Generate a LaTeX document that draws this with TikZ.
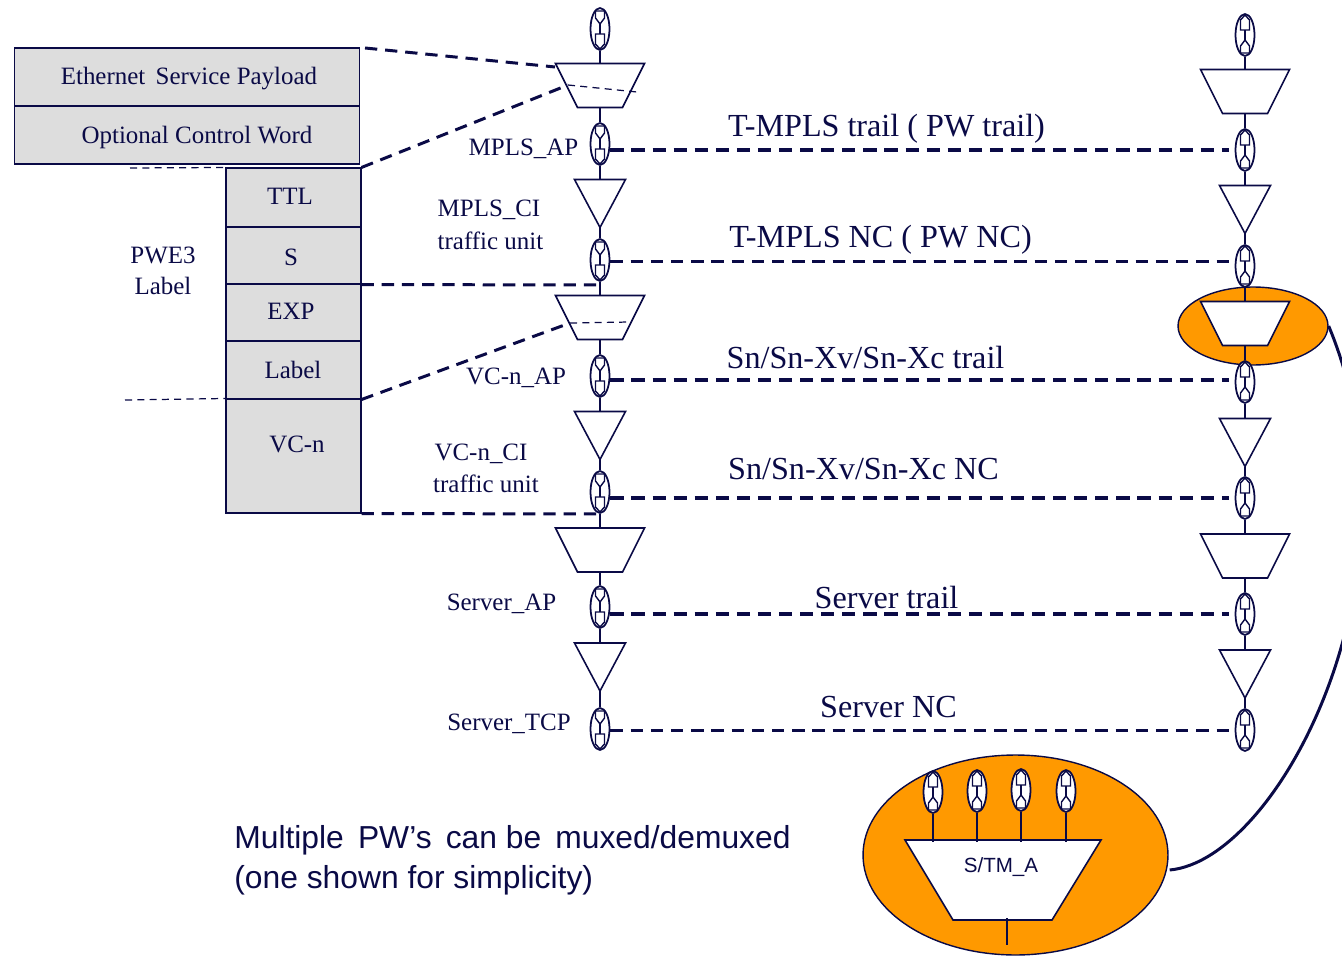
\documentclass[tikz,border=0pt]{standalone}
\usepackage{fontspec}
\setmainfont{Liberation Serif}
\setsansfont{Liberation Sans}
\usetikzlibrary{shapes.geometric}
\definecolor{navyline}{HTML}{0A0A46}
\definecolor{fieldgray}{HTML}{DDDDDD}
\definecolor{blobfill}{HTML}{FF9900}
\tikzset{
    wire/.style={draw=navyline, line width=0.8pt},
    fieldbox/.style={shape=rectangle, draw=navyline, fill=fieldgray, line width=0.6pt, inner sep=0pt, text=navyline},
    midtext/.style={text=navyline, inner sep=0pt, font=\fontsize{14.2}{16}\selectfont},
    bigtext/.style={text=navyline, inner sep=0pt, font=\fontsize{18.3}{20}\selectfont},
    sanstext/.style={text=navyline, inner sep=0pt, align=left, font=\sffamily\fontsize{18.1}{22.8}\selectfont},
    heavydash/.style={draw=navyline, line width=1.9pt, dash pattern=on 7.5pt off 4.5pt, shorten >=3pt},
    meddash/.style={draw=navyline, line width=1.7pt, dash pattern=on 7pt off 4.5pt},
    layerdash/.style={draw=navyline, line width=1.4pt, dash pattern=on 7pt off 4.5pt, shorten >=3pt},
    thindash/.style={draw=navyline, line width=0.7pt, dash pattern=on 4pt off 3pt},
    outline/.style={draw=navyline, fill=white, line width=0.9pt},
    blob/.style={shape=ellipse, draw=navyline, fill=blobfill, line width=0.8pt, inner sep=0pt},
    cpoval/.style={shape=ellipse, draw=navyline, fill=white, line width=1pt, inner sep=0pt, minimum width=0.38cm, minimum height=0.84cm},
    cp/.pic={
        \node[cpoval] (-o) at (0,0) {};
        \draw[wire] (-4.5,-18) -- (4.5,-18) -- (4.5,-11) -- (0,-5) -- (-4.5,-11) -- cycle;
        \draw[wire] (0,-5) -- (0,5);
        \draw[wire] (-4.5,5) -- (4.5,5) -- (4.5,15) -- (0,20) -- (-4.5,15) -- cycle;
    },
    adapt/.pic={
        \draw[outline] (-44.5,-22) -- (44.5,-22) -- (22.5,22) -- (-22.5,22) -- cycle;
        \coordinate (-n) at (0,-22);
        \coordinate (-s) at (0,22);
    },
    term/.pic={
        \draw[outline] (-25.5,-24) -- (25.5,-24) -- (0,24) -- cycle;
        \coordinate (-n) at (0,-24);
        \coordinate (-s) at (0,24);
    }
}
\begin{document}
\begin{tikzpicture}[x=0.02cm, y=-0.02cm]
    % Paths, nodes and wires:
    \useasboundingbox (0,0) rectangle (1342,956);
    \node[blob, minimum width=3cm, minimum height=1.56cm](B1) at (1253, 326){};
    \node[blob, minimum width=6.1cm, minimum height=4cm](B2) at (1015.5, 855){};
    % frame fields
    \node[fieldbox, minimum width=6.92cm, minimum height=1.16cm](F1) at (187, 77){};
    \node[midtext] at (189, 79){Ethernet\, Service Payload};
    \node[fieldbox, minimum width=6.92cm, minimum height=1.16cm](F2) at (187, 135){};
    \node[midtext] at (197, 138){Optional Control Word};
    \node[fieldbox, minimum width=2.7cm, minimum height=1.18cm](F3) at (293.5, 197.5){};
    \node[midtext] at (290, 196){TTL};
    \node[fieldbox, minimum width=2.7cm, minimum height=1.14cm](F4) at (293.5, 255.5){};
    \node[midtext] at (291, 257){S};
    \node[fieldbox, minimum width=2.7cm, minimum height=1.14cm](F5) at (293.5, 312.5){};
    \node[midtext] at (291, 311){EXP};
    \node[fieldbox, minimum width=2.7cm, minimum height=1.16cm](F6) at (293.5, 370){};
    \node[midtext] at (293, 370){Label};
    \node[fieldbox, minimum width=2.7cm, minimum height=2.28cm](F7) at (293.5, 456){};
    \node[midtext] at (297, 444){VC-n};
    \node[midtext] at (163, 255){PWE3};
    \node[midtext] at (163, 286){Label};
    \coordinate (E1) at (130, 168);
    \coordinate (E2) at (125, 400);
    % first column
    \pic (C1) at (600, 29) {cp};
    \pic (A1) at (600, 85.5) {adapt};
    \pic (C2) at (600, 144) {cp};
    \pic (T1) at (600, 203.5) {term};
    \pic (C3) at (600, 260) {cp};
    \pic (A2) at (600, 317.5) {adapt};
    \pic (C4) at (600, 376) {cp};
    \pic (T2) at (600, 435.5) {term};
    \pic (C5) at (600, 492) {cp};
    \pic (A3) at (600, 550) {adapt};
    \pic (C6) at (600, 607) {cp};
    \pic (T3) at (600, 667) {term};
    \pic (C7) at (600, 729) {cp};
    % second column
    \pic[yscale=-1] (D1) at (1245, 35) {cp};
    \pic (G1) at (1245, 91.5) {adapt};
    \pic[yscale=-1] (D2) at (1245, 150) {cp};
    \pic (H1) at (1245, 209.5) {term};
    \pic[yscale=-1] (D3) at (1245, 266) {cp};
    \pic (G2) at (1245, 323.5) {adapt};
    \pic[yscale=-1] (D4) at (1245, 382) {cp};
    \pic (H2) at (1245, 442.5) {term};
    \pic[yscale=-1] (D5) at (1245, 498) {cp};
    \pic (G3) at (1245, 556) {adapt};
    \pic[yscale=-1] (D6) at (1245, 614) {cp};
    \pic (H3) at (1245, 674) {term};
    \pic[yscale=-1] (D7) at (1245, 730) {cp};
    % stems
    \draw[wire] (C1-o.south) -- (A1-n);
    \draw[wire] (A1-s) -- (C2-o.north);
    \draw[wire] (C2-o.south) -- (T1-n);
    \draw[wire] (T1-s) -- (C3-o.north);
    \draw[wire] (C3-o.south) -- (A2-n);
    \draw[wire] (A2-s) -- (C4-o.north);
    \draw[wire] (C4-o.south) -- (T2-n);
    \draw[wire] (T2-s) -- (C5-o.north);
    \draw[wire] (C5-o.south) -- (A3-n);
    \draw[wire] (A3-s) -- (C6-o.north);
    \draw[wire] (C6-o.south) -- (T3-n);
    \draw[wire] (T3-s) -- (C7-o.north);
    \draw[wire] (D1-o.south) -- (G1-n);
    \draw[wire] (G1-s) -- (D2-o.north);
    \draw[wire] (D2-o.south) -- (H1-n);
    \draw[wire] (H1-s) -- (D3-o.north);
    \draw[wire] (D3-o.south) -- (G2-n);
    \draw[wire] (G2-s) -- (D4-o.north);
    \draw[wire] (D4-o.south) -- (H2-n);
    \draw[wire] (H2-s) -- (D5-o.north);
    \draw[wire] (D5-o.south) -- (G3-n);
    \draw[wire] (G3-s) -- (D6-o.north);
    \draw[wire] (D6-o.south) -- (H3-n);
    \draw[wire] (H3-s) -- (D7-o.north);
    % frame to column
    \coordinate (P0) at (365, 48);
    \coordinate (P1) at (555, 67);
    \coordinate (P2) at (568, 85);
    \coordinate (P3) at (637, 92);
    \coordinate (P4) at (600, 285);
    \coordinate (P5) at (570, 323);
    \coordinate (P6) at (630, 322);
    \coordinate (P7) at (600, 514);
    \draw[meddash] (P0) -- (P1);
    \draw[meddash] (F3.north east) -- (P2);
    \draw[thindash] (P2) -- (P3);
    \draw[meddash] (F4.south east) -- (P4);
    \draw[meddash] (F6.south east) -- (P5);
    \draw[thindash] (P5) -- (P6);
    \draw[meddash] (F7.south east) -- (P7);
    \draw[thindash] (E1) -- (F3.north west);
    \draw[thindash] (E2) -- (F7.north west);
    % layer lines
    \coordinate (R3) at (0, 261.4);
    \coordinate (R4) at (0, 380);
    \coordinate (R7) at (0, 730.4);
    \draw[heavydash] (C2-o.east |- D2-o.west) -- (D2-o.west);
    \draw[layerdash] (C3-o.east |- R3) -- (D3-o.west |- R3);
    \draw[heavydash] (C4-o.east |- R4) -- (D4-o.west |- R4);
    \draw[heavydash] (C5-o.east |- D5-o.west) -- (D5-o.west);
    \draw[heavydash] (C6-o.east |- D6-o.west) -- (D6-o.west);
    \draw[layerdash] (C7-o.east |- R7) -- (D7-o.west |- R7);
    % labels
    \node[midtext] at (523.5, 149){MPLS\_AP};
    \node[midtext] at (489, 210){MPLS\_CI};
    \node[midtext] at (490.5, 241){traffic unit};
    \node[midtext] at (516, 378){VC-n\_AP};
    \node[midtext] at (481, 454){VC-n\_CI};
    \node[midtext] at (486, 484){traffic unit};
    \node[midtext] at (501.5, 604){Server\_AP};
    \node[midtext] at (509, 724){Server\_TCP};
    \node[bigtext] at (886.5, 129){T-MPLS trail ( PW trail)};
    \node[bigtext] at (880.5, 240){T-MPLS NC ( PW NC)};
    \node[bigtext] at (865.5, 358){Sn/Sn-Xv/Sn-Xc trail};
    \node[bigtext] at (863.5, 469){Sn/Sn-Xv/Sn-Xc NC};
    \node[bigtext] at (886.5, 597){Server trail};
    \node[bigtext] at (888.5, 707){Server NC};
    \node[sanstext, anchor=west] at (234, 860){Multiple\, PW’s\, can be\, muxed/demuxed\\(one shown for simplicity)};
    % multiplexed detail
    \draw[outline] (905, 840) -- (1101, 840) -- (1052, 920) -- (953, 920) -- cycle;
    \node[text=navyline, inner sep=0pt, font=\sffamily\fontsize{11.7}{14}\selectfont] at (1001, 867){S/TM\_A};
    \coordinate (M1) at (1007, 918);
    \coordinate (M2) at (1007, 945);
    \draw[wire] (M1) -- (M2);
    \pic[yscale=-1] (K1) at (933, 792) {cp};
    \pic[yscale=-1] (K2) at (977, 791) {cp};
    \pic[yscale=-1] (K3) at (1021, 790) {cp};
    \pic[yscale=-1] (K4) at (1066, 791) {cp};
    \coordinate (M3) at (933, 842);
    \draw[wire] (K1-o.south) -- (K1-o.south |- M3);
    \draw[wire] (K2-o.south) -- (K2-o.south |- M3);
    \draw[wire] (K3-o.south) -- (K3-o.south |- M3);
    \draw[wire] (K4-o.south) -- (K4-o.south |- M3);
    \draw[draw=navyline, line width=1.7pt] (B2.east) ++(1,15) .. controls (1280, 860) and (1430, 570) .. (B1.east);
\end{tikzpicture}
\end{document}
